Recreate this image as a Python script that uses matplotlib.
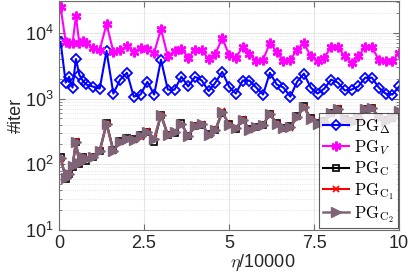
import matplotlib
matplotlib.use("Agg")
from matplotlib import pyplot as plt
from matplotlib.ticker import LogLocator, NullFormatter

plt.rcParams["font.family"] = ["Liberation Sans", "DejaVu Sans"]
plt.rcParams["mathtext.fontset"] = "cm"

# data
eta = [0.05, 0.2, 0.3, 0.4, 0.5, 0.6, 0.7, 0.8,
       1.0, 1.2, 1.4, 1.6, 1.8, 2.0, 2.2, 2.4, 2.6, 2.8,
       3.0, 3.2, 3.4, 3.6, 3.8, 4.0, 4.2, 4.4, 4.6, 4.8,
       5.0, 5.2, 5.4, 5.6, 5.8, 6.0, 6.2, 6.4, 6.6, 6.8,
       7.0, 7.2, 7.4, 7.6, 7.8, 8.0, 8.2, 8.4, 8.6, 8.8,
       9.0, 9.2, 9.4, 9.6, 9.8, 10.0]

pg_delta = [7300, 1750, 2150, 1470, 4000, 2300, 1880, 1640,
            1520, 1420, 5300, 1190, 1940, 2470, 1070, 1150, 1800, 1150,
            3900, 1370, 1370, 2150, 1530, 2150, 1880, 1300, 1750, 2550,
            1520, 1190, 1880, 1880, 1470, 1150, 2470, 1640, 1470, 1070,
            1800, 2400, 1470, 1190, 1420, 1940, 1750, 1330, 1370, 1530,
            2080, 2080, 1470, 1190, 1150, 1530]

pg_v = [24500, 7300, 7000, 6900, 18000, 7000, 7500, 7000,
        5900, 5500, 13600, 5200, 5500, 6300, 5200, 5900, 5700, 5000,
        11500, 4400, 5300, 5700, 4200, 5500, 5500, 4000, 4800, 8400,
        4600, 4200, 6100, 4800, 3700, 3900, 7000, 5200, 3700, 3900,
        5500, 7000, 4400, 3700, 4200, 6100, 6100, 4400, 3500, 4400,
        6100, 6100, 3900, 3700, 3700, 5000]

pg_c = [130, 60, 72, 90, 215, 100, 128, 112,
        128, 158, 420, 165, 225, 255, 240, 275, 305, 220,
        560, 275, 300, 420, 265, 380, 400, 290, 330, 610,
        410, 345, 470, 345, 365, 390, 590, 420, 360, 380,
        540, 760, 500, 430, 450, 610, 690, 490, 450, 510,
        690, 710, 530, 470, 510, 630]

pg_c1 = [122, 63, 70, 94, 222, 104, 131, 120,
         132, 162, 405, 158, 218, 240, 232, 262, 315, 250,
         570, 285, 315, 400, 275, 390, 415, 275, 340, 640,
         395, 355, 480, 330, 375, 405, 575, 410, 345, 360,
         520, 735, 480, 410, 440, 590, 710, 470, 435, 495,
         710, 725, 510, 455, 490, 650]

pg_c2 = [125, 62, 71, 93, 220, 103, 130, 118,
         130, 160, 410, 160, 220, 245, 235, 270, 310, 245,
         565, 280, 310, 410, 270, 385, 410, 280, 335, 630,
         400, 350, 475, 335, 370, 400, 585, 415, 350, 370,
         525, 745, 490, 415, 445, 600, 700, 480, 440, 500,
         700, 720, 520, 460, 500, 640]

labels = [r"$\mathrm{PG}_\Delta$", r"$\mathrm{PG}_V$", r"$\mathrm{PG}_\mathrm{C}$",
          r"$\mathrm{PG}_{\mathrm{C}_1}$", r"$\mathrm{PG}_{\mathrm{C}_2}$"]

fig = plt.figure(figsize=(4.09, 2.73), dpi=100)
ax = fig.add_axes([0.144, 0.158, 0.832, 0.838])

ax.plot(eta, pg_delta, "-", color="blue", lw=1.5, marker="D", ms=5.5,
        mfc="none", mew=1.3, label=labels[0])
ax.plot(eta, pg_v, "-", color="magenta", lw=1.5, marker=(6, 2, 0), ms=7,
        mew=1.8, label=labels[1])
ax.plot(eta, pg_c, "-", color="black", lw=1.5, marker="s", ms=4,
        mfc="none", mew=1.2, label=labels[2])
ax.plot(eta, pg_c1, "-", color="red", lw=1.5, marker="x", ms=4,
        mew=1.2, label=labels[3])
ax.plot(eta, pg_c2, "-", color="#7f6478", lw=1.8, marker=">", ms=6.5,
        mew=1.0, label=labels[4])

ax.set_yscale("log")
ax.set_xlim(0, 10)
ax.set_ylim(10, 3.05e4)
ax.set_xticks([0, 2.5, 5, 7.5, 10])
ax.set_xticklabels(["0", "2.5", "5", "7.5", "10"])
ax.yaxis.set_minor_locator(LogLocator(base=10, subs=range(2, 10)))
ax.yaxis.set_minor_formatter(NullFormatter())

ax.grid(True, which="major", color="#e6e6e6", lw=0.8)
ax.grid(True, which="minor", axis="y", color="#dddddd", lw=0.6, ls=":")
ax.set_axisbelow(True)

for s in ax.spines.values():
    s.set_color("#6e6e6e")
    s.set_linewidth(0.8)
ax.tick_params(which="both", direction="in", top=True, right=True,
               colors="#6e6e6e", labelcolor="#262626", labelsize=13)
ax.tick_params(which="major", length=4)
ax.tick_params(which="minor", length=2)

ax.set_ylabel("#iter", fontsize=13, color="#262626")
ax.set_xlabel(r"$\eta$/10000", fontsize=13, color="#262626")
ax.xaxis.set_label_coords(0.6, -0.1)
ax.yaxis.set_label_coords(-0.10, 0.5)

leg = ax.legend(loc="lower right", fontsize=12, frameon=True, fancybox=False,
                borderpad=0.2, labelspacing=0.15, handlelength=1.6,
                handletextpad=0.3, borderaxespad=0.1)
leg.get_frame().set_edgecolor("#333333")
leg.get_frame().set_linewidth(0.8)

fig.savefig("out.png", dpi=100)
